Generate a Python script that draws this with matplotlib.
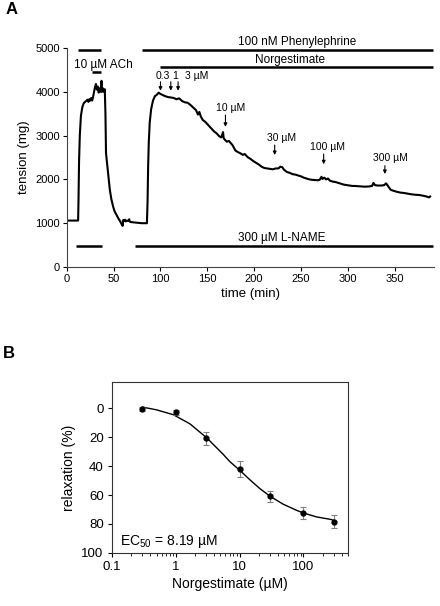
import numpy as np
import matplotlib
matplotlib.use("Agg")
import matplotlib.pyplot as plt

plt.rcParams['font.family'] = ['Liberation Sans', 'DejaVu Sans']
plt.rcParams['mathtext.fontset'] = 'custom'
plt.rcParams['mathtext.rm'] = 'Liberation Sans'

# ---------------- Panel A data ----------------
trace_t = [0, 12.0, 12.4, 13, 13.8, 15, 16.5, 18, 20, 22, 23, 24, 25, 26, 27, 28, 29, 30, 31, 32, 33, 34,
           35, 36, 37, 37.5, 38.5, 39.5, 40.5, 41.2, 41.8, 43, 44.1, 45.9, 47.5, 49.4, 51, 53, 55, 57,
           58.5, 59.4, 59.8, 60.2, 61, 62, 63, 64, 65.5, 66.5, 67.5, 70.8, 75, 80, 85.5, 86.2, 86.8,
           87.5, 88.5, 90, 92, 94, 96, 98, 100, 102, 105, 108, 111, 114, 117, 120, 123, 126, 129, 132,
           135, 138, 140, 141.5, 143, 145, 148, 151, 154, 157, 160, 163, 165, 166.8, 167.5, 169, 171,
           173, 175, 177, 180, 183, 185, 188, 190, 193, 196, 199, 202, 205, 208, 211, 214, 217, 220,
           223, 226, 228, 230, 232, 235, 238, 241, 244, 247, 250, 253, 256, 259, 262, 265, 268, 270,
           272, 273, 275, 277, 279, 281, 284, 287, 290, 293, 296, 299, 302, 305, 308, 311, 314, 317,
           320, 323, 326, 327.5, 329, 332, 336, 339, 341, 343, 346, 349, 352, 356, 360, 364, 368, 372,
           376, 380, 384, 387, 388]
trace_mg = [1060, 1060, 1500, 2400, 3000, 3450, 3650, 3740, 3780, 3820, 3770, 3830, 3800, 3860, 3800,
            3880, 4000, 4100, 4180, 4050, 4120, 3980, 4080, 4000, 4250, 4000, 4080, 4000, 4060, 3500,
            2600, 2350, 2140, 1760, 1550, 1380, 1270, 1190, 1110, 1040, 980, 940, 950, 1070, 1050, 1080,
            1040, 1060, 1050, 1090, 1030, 1020, 1010, 1000, 1000, 1500, 2300, 2850, 3300, 3600, 3800,
            3900, 3930, 3980, 3950, 3930, 3900, 3880, 3870, 3860, 3830, 3850, 3790, 3760, 3750, 3700,
            3640, 3580, 3480, 3540, 3440, 3360, 3310, 3240, 3170, 3100, 3050, 2980, 2960, 3080, 2940,
            2900, 2860, 2880, 2830, 2780, 2660, 2620, 2600, 2560, 2580, 2510, 2470, 2420, 2380, 2340,
            2290, 2260, 2250, 2240, 2230, 2250, 2250, 2290, 2280, 2220, 2170, 2150, 2120, 2110, 2090,
            2070, 2040, 2020, 2000, 1990, 1985, 1980, 1990, 2060, 2010, 2040, 2000, 2020, 1970, 1950,
            1940, 1920, 1900, 1880, 1870, 1860, 1850, 1850, 1845, 1840, 1835, 1835, 1840, 1850, 1920,
            1870, 1860, 1860, 1870, 1910, 1850, 1760, 1740, 1720, 1700, 1690, 1675, 1660, 1650, 1645,
            1630, 1610, 1590, 1610]

dose_arrow_t = [100, 111, 118.8, 169.4, 222, 274.3, 339.7]
dose_arrow_top = [4230, 4230, 4230, 3470, 2785, 2580, 2313]
dose_arrow_tip = [4025, 4025, 4025, 3200, 2557, 2345, 2123]
dose_labels = ["0.3", "1", "3 µM", "10 µM", "30 µM", "100 µM", "300 µM"]
dose_label_t = [102.7, 116, 139, 175.4, 229, 278.9, 345.5]
dose_label_y = [4360, 4360, 4360, 3630, 2936, 2747, 2484]

# ---------------- Panel B data ----------------
conc = [0.3, 1, 3, 10, 30, 100, 300]
relax = [0.9, 3.0, 20.8, 42.3, 60.7, 72.3, 78.3]
relax_err = [1.4, 1.8, 4.6, 5.5, 3.8, 4.3, 4.6]
fit_conc = [0.3, 0.5, 0.92, 1.67, 3.05, 5.55, 7.05, 10.1, 14.5, 20.7, 29.7, 48, 77.6, 98.6, 160, 258, 300]
fit_relax = [-0.7, 1.2, 4.6, 10.9, 20.5, 32, 37, 43, 49.5, 55.5, 60.7, 66.3, 70.5, 72.3, 75.1, 76.7, 77.4]

fig = plt.figure(figsize=(4.4, 6.06), dpi=100)

# ---------------- Panel A ----------------
axA = fig.add_axes([0.152, 0.5594, 0.834, 0.3614])
axA.plot(trace_t, trace_mg, color='black', lw=1.5, solid_joinstyle='round')
axA.set_xlim(0, 392)
axA.set_ylim(0, 5000)
axA.set_xticks([0, 50, 100, 150, 200, 250, 300, 350])
axA.set_yticks([0, 1000, 2000, 3000, 4000, 5000])
axA.spines['top'].set_visible(False)
axA.spines['right'].set_visible(False)
axA.tick_params(direction='out', length=3, width=0.8, labelsize=8, pad=2)
axA.set_xlabel('time (min)', fontsize=9.5, labelpad=3)
axA.set_ylabel('tension (mg)', fontsize=9.5, labelpad=4)
for s in axA.spines.values():
    s.set_linewidth(0.8)
    s.set_color('#444444')

bar_kw = dict(color='black', lw=1.8, clip_on=False, solid_capstyle='butt')
axA.plot([12, 36], [4954, 4954], **bar_kw)
axA.plot([26.7, 36], [4460, 4460], **bar_kw)
axA.plot([80.7, 390.6], [4954, 4954], **bar_kw)
axA.plot([99.3, 390.6], [4560, 4560], **bar_kw)
axA.plot([9.6, 37], [486, 486], **bar_kw)
axA.plot([72.9, 390.6], [486, 486], **bar_kw)

axA.text(38.5, 4612, '10 µM ACh', ha='center', va='center', fontsize=8.5)
axA.text(245.8, 5144, '100 nM Phenylephrine', ha='center', va='center', fontsize=8.5, clip_on=False)
axA.text(238.7, 4726, 'Norgestimate', ha='center', va='center', fontsize=8.5)
axA.text(229, 669, '300 µM L-NAME', ha='center', va='center', fontsize=8.5)

for t, top, tip in zip(dose_arrow_t, dose_arrow_top, dose_arrow_tip):
    axA.annotate('', xy=(t, tip), xytext=(t, top),
                 arrowprops=dict(arrowstyle='-|>', color='black', lw=0.8,
                                 mutation_scale=5, shrinkA=0, shrinkB=0))
for lab, t, y in zip(dose_labels, dose_label_t, dose_label_y):
    axA.text(t, y, lab, ha='center', va='center', fontsize=7.5)

fig.text(6 / 440, 1 - 10 / 606, 'A', ha='left', va='center', fontsize=12, fontweight='bold')

# ---------------- Panel B ----------------
axB = fig.add_axes([0.2545, 0.0875, 0.5365, 0.2821])
axB.plot(fit_conc, fit_relax, color='black', lw=1.0, solid_joinstyle='round')
axB.errorbar(conc, relax, yerr=relax_err, fmt='o', color='black', ms=3.5,
             ecolor='#808080', elinewidth=0.8, capsize=2.5, capthick=0.8)
axB.set_xscale('log')
axB.set_xlim(0.1, 500)
axB.set_ylim(100, -18)
axB.set_yticks([0, 20, 40, 60, 80, 100])
axB.set_xticks([0.1, 1, 10, 100])
axB.set_xticklabels(['0.1', '1', '10', '100'])
axB.tick_params(which='major', direction='out', length=3, width=0.8, labelsize=9.5, pad=3)
axB.tick_params(which='minor', direction='out', length=2, width=0.6)
axB.tick_params(axis='x', which='both', top=False)
axB.set_xlabel('Norgestimate (µM)', fontsize=10, labelpad=3)
axB.set_ylabel('relaxation (%)', fontsize=10, labelpad=4)
for s in axB.spines.values():
    s.set_linewidth(0.8)
    s.set_color('#333333')
axB.text(0.035, 0.065, r'EC$_{\mathrm{50}}$ = 8.19 µM', transform=axB.transAxes,
         ha='left', va='center', fontsize=10)

fig.text(3 / 440, 1 - 354 / 606, 'B', ha='left', va='center', fontsize=12, fontweight='bold')

fig.savefig('out.png', dpi=100)
